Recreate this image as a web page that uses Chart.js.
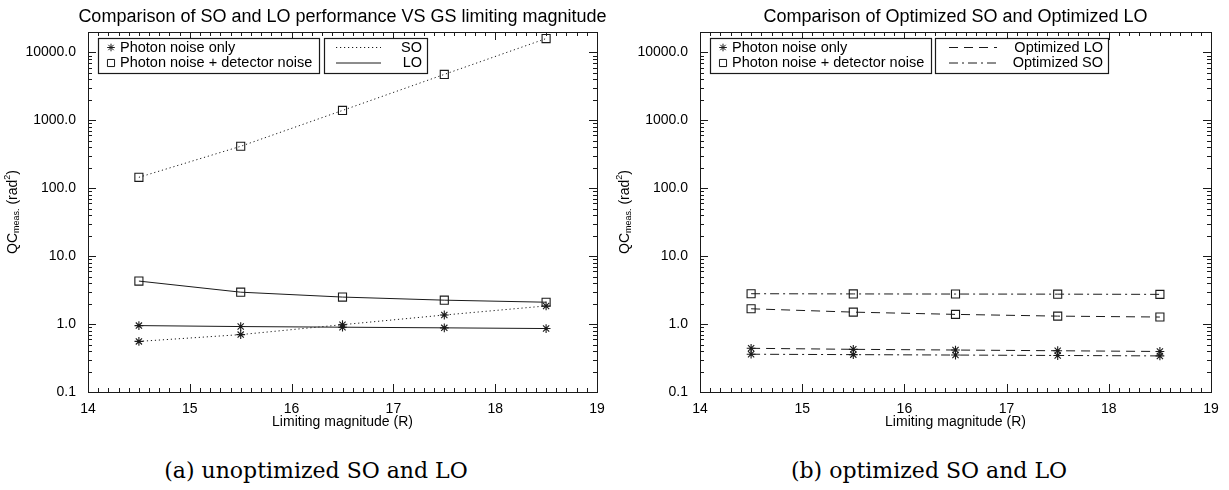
<!DOCTYPE html>
<html>
<head>
<meta charset="utf-8">
<script src="https://cdn.jsdelivr.net/npm/chart.js@4.4.0/dist/chart.umd.min.js"></script>
<style>
  html, body { margin: 0; padding: 0; background: #fff; }
  body { width: 1229px; height: 490px; position: relative; overflow: hidden; }
  .panel { position: absolute; top: 0; height: 440px; }
  #panelA { left: 0; width: 614px; }
  #panelB { left: 614px; width: 615px; }
  .caption { position: absolute; top: 458px; width: 440px; line-height: 26px; text-align: center;
             font-family: "DejaVu Serif", serif; font-size: 22px; color: #000; }
</style>
</head>
<body>
<div class="panel" id="panelA"><canvas id="chartA"></canvas></div>
<div class="panel" id="panelB"><canvas id="chartB"></canvas></div>
<div class="caption" style="left:96px">(a) unoptimized SO and LO</div>
<div class="caption" style="left:709px">(b) optimized SO and LO</div>
<script>
// limiting magnitudes (x)
const magnitudes = [14.5, 15.5, 16.5, 17.5, 18.5];

// (a) unoptimized
const soPhoton = [0.556, 0.70, 0.98, 1.36, 1.85];
const soDetector = [145, 415, 1400, 4750, 16000];
const loPhoton = [0.95, 0.92, 0.90, 0.88, 0.86];
const loDetector = [4.3, 2.95, 2.5, 2.25, 2.1];

// (b) optimized
const optLoPhoton = [0.44, 0.425, 0.415, 0.405, 0.395];
const optLoDetector = [1.68, 1.5, 1.39, 1.31, 1.27];
const optSoPhoton = [0.36, 0.355, 0.35, 0.345, 0.34];
const optSoDetector = [2.8, 2.78, 2.77, 2.76, 2.74];

const xTicks = [14, 15, 16, 17, 18, 19];
const yTicks = [0.1, 1, 10, 100, 1000, 10000];
const symbolLabels = ['Photon noise only', 'Photon noise + detector noise'];

const INK = '#1a1a1a';
const SANS = '"Liberation Sans", Arial, sans-serif';
const DOTTED = [1.2, 2.8];
const DASHED = [9, 6];
const DASHDOT = [9, 4, 2, 4];

function pts(ys) {
  return ys.map((y, i) => ({ x: magnitudes[i], y }));
}

function series(label, ys, style, dash) {
  return {
    label, data: pts(ys),
    borderColor: INK, borderWidth: 1, borderDash: dash,
    pointStyle: style, pointRadius: style === 'rect' ? 5.7 : 4.4,
    pointBorderColor: INK, pointBackgroundColor: 'rgba(0,0,0,0)', pointBorderWidth: 1.1,
    tension: 0, fill: false
  };
}

// IDL-style frame, inward ticks, title, y title and two legend boxes
const idlPlot = {
  id: 'idlPlot',
  afterDatasetsDraw(chart, args, o) {
    const { ctx, chartArea: a, scales: { x, y } } = chart;
    ctx.save();
    ctx.strokeStyle = INK;
    ctx.lineWidth = 1;
    ctx.setLineDash([]);
    ctx.strokeRect(a.left + 0.5, a.top + 0.5, a.right - a.left, a.bottom - a.top);

    ctx.beginPath();
    for (let i = 0; i <= 50; i++) {
      const px = Math.round(x.getPixelForValue(x.min + i * 0.1)) + 0.5;
      const len = i % 10 === 0 ? 8 : 4;
      ctx.moveTo(px, a.bottom); ctx.lineTo(px, a.bottom - len);
      ctx.moveTo(px, a.top); ctx.lineTo(px, a.top + len);
    }
    for (let d = -1; d <= 4; d++) {
      for (let k = 1; k <= 9; k++) {
        const v = k * Math.pow(10, d);
        if (v > y.max) break;
        const py = Math.round(y.getPixelForValue(v)) + 0.5;
        const len = k === 1 ? 8 : 4;
        ctx.moveTo(a.left, py); ctx.lineTo(a.left + len, py);
        ctx.moveTo(a.right, py); ctx.lineTo(a.right - len, py);
      }
    }
    ctx.stroke();

    // title
    ctx.fillStyle = '#000';
    ctx.font = '18px ' + SANS;
    ctx.textAlign = 'center';
    ctx.textBaseline = 'middle';
    ctx.fillText(o.title, (a.left + a.right) / 2, 17);

    // y title with subscript / superscript
    ctx.save();
    ctx.translate(o.yTitleX, (a.top + a.bottom) / 2);
    ctx.rotate(-Math.PI / 2);
    const big = '14px ' + SANS, small = '9px ' + SANS;
    const parts = [['QC', big, 0], ['meas.', small, 4], [' (rad', big, 0], ['2', small, -5], [')', big, 0]];
    let w = 0;
    parts.forEach(p => { ctx.font = p[1]; w += ctx.measureText(p[0]).width; });
    let tx = -w / 2;
    ctx.textAlign = 'left';
    parts.forEach(p => { ctx.font = p[1]; ctx.fillText(p[0], tx, p[2]); tx += ctx.measureText(p[0]).width; });
    ctx.restore();

    // legend boxes
    const bx = a.left + 10, by = a.top + 6, bh = 35;
    const b1w = 221, b2x = a.left + o.box2Left, b2w = o.box2Width;
    ctx.fillStyle = '#fff';
    ctx.fillRect(bx, by, b1w, bh);
    ctx.fillRect(b2x, by, b2w, bh);
    ctx.lineWidth = 1.2;
    ctx.strokeRect(bx + 0.5, by + 0.5, b1w, bh);
    ctx.strokeRect(b2x + 0.5, by + 0.5, b2w, bh);

    const rows = [by + 9.5, by + 25];
    ctx.lineWidth = 1;
    ctx.fillStyle = 'rgba(0,0,0,0)';
    Chart.helpers.drawPoint(ctx, { pointStyle: 'star', radius: 3.8, borderWidth: 1, rotation: 0 }, bx + 13, rows[0]);
    Chart.helpers.drawPoint(ctx, { pointStyle: 'rect', radius: 5, borderWidth: 1, rotation: 0 }, bx + 13, rows[1]);
    ctx.fillStyle = '#000';
    ctx.font = '14.5px ' + SANS;
    ctx.textAlign = 'left';
    ctx.fillText(symbolLabels[0], bx + 22, rows[0]);
    ctx.fillText(symbolLabels[1], bx + 22, rows[1]);

    o.lines.forEach((ln, i) => {
      ctx.beginPath();
      ctx.setLineDash(ln.dash);
      ctx.moveTo(b2x + o.sampleStart, rows[i]);
      ctx.lineTo(b2x + o.sampleStart + o.sampleLen, rows[i]);
      ctx.stroke();
      ctx.setLineDash([]);
      ctx.textAlign = 'right';
      ctx.fillText(ln.label, b2x + b2w - 5, rows[i]);
    });
    ctx.restore();
  }
};

function makeChart(id, datasets, leftWidth, padRight, plotOpts) {
  return new Chart(document.getElementById(id), {
    type: 'line',
    data: { datasets },
    plugins: [idlPlot],
    options: {
      responsive: true, maintainAspectRatio: false, animation: false, devicePixelRatio: 1,
      events: [],
      layout: { padding: { left: 0, right: padRight, top: 32, bottom: 0 } },
      plugins: { legend: { display: false }, tooltip: { enabled: false }, title: { display: false }, idlPlot: plotOpts },
      scales: {
        x: {
          type: 'linear', min: 14, max: 19,
          grid: { display: false }, border: { display: false },
          afterBuildTicks: s => { s.ticks = xTicks.map(v => ({ value: v })); },
          afterFit: s => { s.height = 48; },
          ticks: { color: '#000', font: { family: SANS, size: 14 }, padding: 1, maxRotation: 0, autoSkip: false },
          title: { display: true, text: 'Limiting magnitude (R)', color: '#000', font: { family: SANS, size: 14 }, padding: { top: 0, bottom: 9 } }
        },
        y: {
          type: 'logarithmic', min: 0.1, max: 20000,
          grid: { display: false }, border: { display: false },
          afterBuildTicks: s => { s.ticks = yTicks.map(v => ({ value: v })); },
          afterFit: s => { s.width = leftWidth; },
          ticks: { color: '#000', font: { family: SANS, size: 14 }, padding: 4, autoSkip: false,
                   callback: v => Number(v).toFixed(1) }
        }
      }
    }
  });
}

makeChart('chartA', [
  series('SO photon', soPhoton, 'star', DOTTED),
  series('SO detector', soDetector, 'rect', DOTTED),
  series('LO photon', loPhoton, 'star', []),
  series('LO detector', loDetector, 'rect', [])
], 88, 17, {
  title: 'Comparison of SO and LO performance VS GS limiting magnitude',
  yTitleX: 13, box2Left: 236, box2Width: 103, sampleStart: 12, sampleLen: 45,
  lines: [{ label: 'SO', dash: DOTTED }, { label: 'LO', dash: [] }]
});

makeChart('chartB', [
  series('Optimized LO photon', optLoPhoton, 'star', DASHED),
  series('Optimized LO detector', optLoDetector, 'rect', DASHED),
  series('Optimized SO photon', optSoPhoton, 'star', DASHDOT),
  series('Optimized SO detector', optSoDetector, 'rect', DASHDOT)
], 86, 18, {
  title: 'Comparison of Optimized SO and Optimized LO',
  yTitleX: 11, box2Left: 235, box2Width: 173, sampleStart: 14, sampleLen: 48,
  lines: [{ label: 'Optimized LO', dash: DASHED }, { label: 'Optimized SO', dash: DASHDOT }]
});
</script>
</body>
</html>
